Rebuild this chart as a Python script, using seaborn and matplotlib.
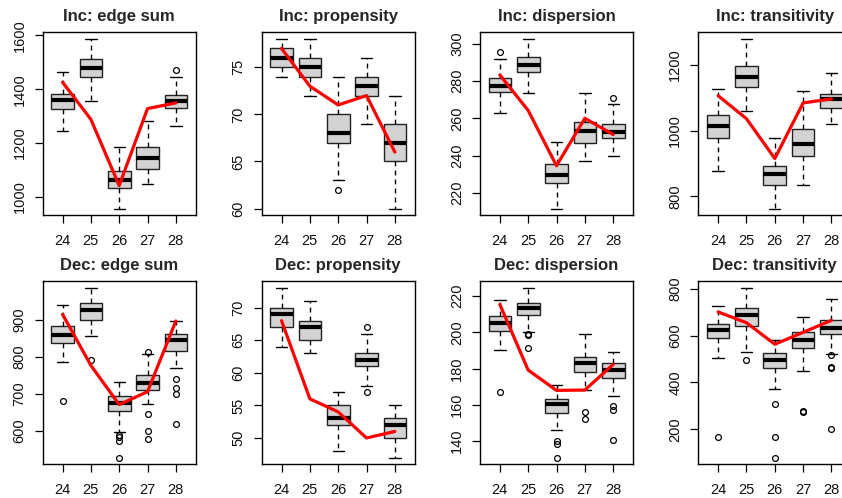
import numpy as np
import matplotlib
matplotlib.use("Agg")
import matplotlib.pyplot as plt
import seaborn as sns

sns.set_style("white")
plt.rcParams['font.family'] = ['Liberation Sans', 'DejaVu Sans']

groups = ['24', '25', '26', '27', '28']

titles = ['Inc: edge sum', 'Inc: propensity', 'Inc: dispersion', 'Inc: transitivity',
          'Dec: edge sum', 'Dec: propensity', 'Dec: dispersion', 'Dec: transitivity']

# box stats per group: [whisker low, q1, median, q3, whisker high]
inc_edge_box = [[1244, 1326, 1360, 1382, 1464], [1357, 1447, 1479, 1512, 1586],
                [957, 1033, 1063, 1096, 1185], [1047, 1105, 1143, 1184, 1283],
                [1265, 1331, 1357, 1377, 1445]]
inc_edge_out = [[], [], [], [], [1473]]
inc_edge_line = [1426, 1288, 1042, 1328, 1349]
inc_edge_ticks = [1000, 1200, 1400, 1600]

inc_prop_box = [[74, 75, 76, 77, 78], [72, 74, 75, 76, 78], [63, 67, 68, 70, 74],
                [69, 72, 73, 74, 76], [60, 65, 67, 69, 72]]
inc_prop_out = [[], [], [62], [], []]
inc_prop_line = [77, 73, 71, 72, 66]
inc_prop_ticks = [60, 65, 70, 75]

inc_disp_box = [[263, 274, 277.5, 281.7, 291.8], [273.4, 284.7, 288.5, 293.1, 302.5],
                [211.8, 225.3, 230, 235.6, 247.5], [237.4, 246.8, 253.3, 258.3, 273.4],
                [240, 249.3, 252.5, 257.3, 267.7]]
inc_disp_out = [[295.7], [], [], [], [270.7]]
inc_disp_line = [283.3, 264.3, 234.7, 260.1, 251.4]
inc_disp_ticks = [220, 240, 260, 280, 300]

inc_trans_box = [[876, 978, 1014, 1046, 1127], [1060, 1132, 1162, 1195, 1278],
                 [763, 835, 869, 892, 978], [833, 923, 959, 1005, 1119],
                 [1019, 1068, 1096, 1112, 1175]]
inc_trans_out = [[], [], [], [], []]
inc_trans_line = [1106, 1036, 915, 1084, 1096]
inc_trans_ticks = [800, 1000, 1200]

dec_edge_box = [[786, 836, 859, 882, 940], [856, 900, 927, 946, 985],
                [597, 654, 675, 693, 731], [672, 710, 729, 750, 806],
                [769, 816, 844, 860, 896]]
dec_edge_out = [[681], [791], [588, 583, 571, 527], [811, 644, 600, 577], [739, 716, 699, 618]]
dec_edge_line = [914, 776, 670, 705, 896]
dec_edge_ticks = [600, 700, 800, 900]

dec_prop_box = [[64, 67, 69, 70, 73], [63, 65, 67, 68, 71], [48, 52, 53, 55, 57],
                [58, 61, 62, 63, 66], [47, 50, 52, 53, 55]]
dec_prop_out = [[], [], [], [67, 57], []]
dec_prop_line = [68, 56, 54, 50, 51]
dec_prop_ticks = [50, 55, 60, 65, 70]

dec_disp_box = [[190.3, 200.6, 205.2, 209.2, 217.8], [200, 209.6, 213.4, 216.3, 224.4],
                [146.4, 155.8, 160.3, 163.1, 171.1], [168.4, 177.9, 183.2, 186.5, 199.1],
                [165.1, 175.1, 179.5, 183, 189.4]]
dec_disp_out = [[167.1], [199.3, 198.6, 191.4], [140, 138.5, 131], [156.3, 152.3],
                [159.2, 157.2, 140.9]]
dec_disp_line = [215.4, 179.2, 168, 168.2, 182.3]
dec_disp_ticks = [140, 160, 180, 200, 220]

dec_trans_box = [[504, 590, 626, 651, 728], [528, 640, 688, 716, 803],
                 [373, 462, 496, 526, 583], [450, 546, 580, 617, 678],
                 [522, 607, 634, 667, 755]]
dec_trans_out = [[165], [494], [306, 167, 79], [279, 272], [516, 467, 462, 199]]
dec_trans_line = [701, 655, 563, 614, 665]
dec_trans_ticks = [200, 400, 600, 800]

panels = [
    (inc_edge_box, inc_edge_out, inc_edge_line, inc_edge_ticks),
    (inc_prop_box, inc_prop_out, inc_prop_line, inc_prop_ticks),
    (inc_disp_box, inc_disp_out, inc_disp_line, inc_disp_ticks),
    (inc_trans_box, inc_trans_out, inc_trans_line, inc_trans_ticks),
    (dec_edge_box, dec_edge_out, dec_edge_line, dec_edge_ticks),
    (dec_prop_box, dec_prop_out, dec_prop_line, dec_prop_ticks),
    (dec_disp_box, dec_disp_out, dec_disp_line, dec_disp_ticks),
    (dec_trans_box, dec_trans_out, dec_trans_line, dec_trans_ticks),
]

W, H = 842, 498
fig = plt.figure(figsize=(W / 100, H / 100), dpi=100)

col_left = [42.7, 261.7, 480.0, 698.3]
row_top = [32.3, 281.3]
ax_w, ax_h = 153.0, 183.0

positions = np.arange(1, len(groups) + 1)

for i, (box, outs, line, ticks) in enumerate(panels):
    r, c = divmod(i, 4)
    left = col_left[c] / W
    bottom = 1 - (row_top[r] + ax_h) / H
    ax = fig.add_axes([left, bottom, ax_w / W, ax_h / H])

    stats = []
    for g, b, o in zip(groups, box, outs):
        stats.append(dict(whislo=b[0], q1=b[1], med=b[2], q3=b[3], whishi=b[4],
                          fliers=o, label=g))
    ax.bxp(stats, positions=positions, widths=0.8, capwidths=0.4,
           patch_artist=True, showfliers=True,
           boxprops=dict(facecolor='#D3D3D3', edgecolor='#222222', linewidth=1.0),
           medianprops=dict(color='black', linewidth=3.0, solid_capstyle='butt'),
           whiskerprops=dict(color='black', linewidth=1.0, linestyle=(0, (3.5, 3))),
           capprops=dict(color='black', linewidth=1.0),
           flierprops=dict(marker='o', markerfacecolor='none', markeredgecolor='black',
                           markersize=4.2, markeredgewidth=0.9, linestyle='none'),
           zorder=2)

    sns.lineplot(x=positions, y=line, color='red', linewidth=2.3, ax=ax, zorder=3)

    vals = [v for b in box for v in b] + [v for o in outs for v in o]
    lo, hi = min(vals), max(vals)
    pad = (hi - lo) * 0.04
    ax.set_ylim(lo - pad, hi + pad)
    ax.set_xlim(0.3, 5.7)

    ax.set_xticks(positions)
    ax.set_xticklabels(groups)
    ax.set_yticks(ticks)
    ax.set_yticklabels([str(t) for t in ticks])
    ax.set_xlabel('')
    ax.set_ylabel('')
    ax.tick_params(axis='both', which='both', direction='out', length=5.5, width=0.9,
                   color='black', labelsize=10.5, labelcolor='#111111',
                   bottom=True, left=True, pad=6)
    ax.tick_params(axis='x', pad=8)
    for lab in ax.get_yticklabels():
        lab.set_rotation(90)
        lab.set_verticalalignment('center')
    for sp in ax.spines.values():
        sp.set_visible(True)
        sp.set_color('black')
        sp.set_linewidth(1.0)
    ax.set_title(titles[i], fontsize=12, fontweight='bold', pad=8)

fig.savefig('out.png', dpi=100)
